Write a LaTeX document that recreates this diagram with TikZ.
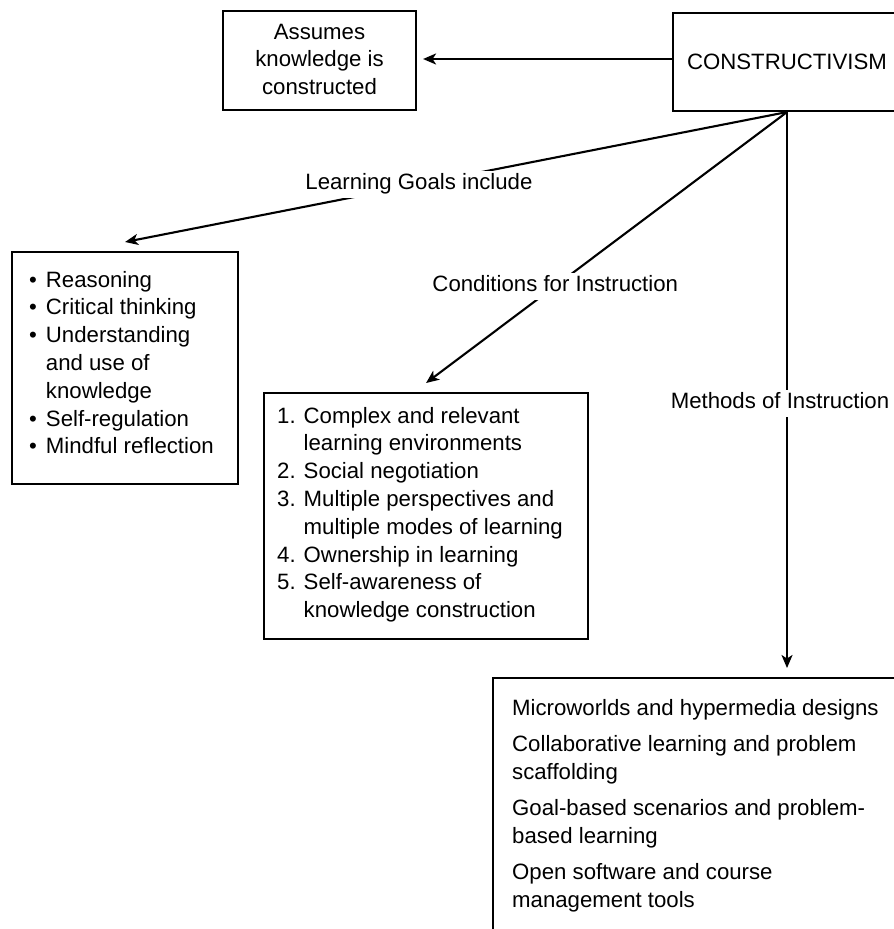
\documentclass[tikz,border=0pt]{standalone}
\usepackage{fontspec}
\setmainfont{Liberation Sans}
\usetikzlibrary{arrows.meta}
\begin{document}
\begin{tikzpicture}[x=1pt,y=-1pt,
  every node/.style={font=\fontsize{22.2}{27.8}\selectfont},
  frame/.style={draw, line width=2.1pt, inner sep=0pt},
  body/.style={inner sep=0pt, anchor=base west},
  link/.style={line width=2.1pt, -{Stealth[length=13pt,width=11pt,inset=3.5pt]}},
  tag/.style={fill=white, inner xsep=3pt, inner ysep=2.5pt, text height=16.5pt, text depth=5.5pt}]
\useasboundingbox (0,0) rectangle (894,929);
\clip (0,0) rectangle (894,929);

% central concept
\node[frame, minimum width=228pt, minimum height=98pt] (constr) at (787,62) {CONSTRUCTIVISM};

% assumption box
\node[frame, minimum width=193pt, minimum height=99pt] (assumes) at (319.5,60.5) {};
\node[anchor=base, inner sep=0pt] (assumesText) at (319.5,39)
  {\begin{tabular}[t]{@{}c@{}}Assumes\\knowledge is\\constructed\end{tabular}};

% learning goals
\node[frame, anchor=north west, minimum width=226pt, minimum height=232pt] (goals) at (11,251) {};
\node[body] (goalsText) at (29,287)
  {\begin{tabular}[t]{@{}l@{\hspace{9pt}}l@{}}
   • & Reasoning\\
   • & Critical thinking\\
   • & Understanding\\
     & and use of\\
     & knowledge\\
   • & Self-regulation\\
   • & Mindful reflection
   \end{tabular}};

% conditions for instruction
\node[frame, anchor=north west, minimum width=324pt, minimum height=246pt] (cond) at (263,392) {};
\node[body] (condText) at (277,423)
  {\begin{tabular}[t]{@{}l@{\hspace{8pt}}l@{}}
   1. & Complex and relevant\\
      & learning environments\\
   2. & Social negotiation\\
   3. & Multiple perspectives and\\
      & multiple modes of learning\\
   4. & Ownership in learning\\
   5. & Self-awareness of\\
      & knowledge construction
   \end{tabular}};

% methods of instruction
\node[frame, anchor=north west, minimum width=450pt, minimum height=300pt] (methods) at (492,677) {};
\node[body] (methodsText) at (512,715)
  {\begin{tabular}[t]{@{}l@{}}
   Microworlds and hypermedia designs\\[8.5pt]
   Collaborative learning and problem\\
   scaffolding\\[8.5pt]
   Goal-based scenarios and problem-\\
   based learning\\[8.5pt]
   Open software and course\\
   management tools
   \end{tabular}};

% connectors
\draw[link, shorten >=6pt] ([yshift=3pt]constr.west) -- ([yshift=3pt]constr.west -| assumes.east);
\draw[link] (constr.south) -- node[tag, pos=0.556] (lblGoals) {Learning Goals include} ([yshift=9pt]goals.north);
\draw[link] (constr.south) -- node[tag, pos=0.642] (lblCond) {Conditions for Instruction} ([yshift=9pt]cond.north);
\draw[link, shorten >=9pt] (constr.south) -- node[tag, pos=0.515, xshift=-7pt, inner xsep=1pt] (lblMethods) {Methods of Instruction} (constr.south |- methods.north);
\end{tikzpicture}
\end{document}
